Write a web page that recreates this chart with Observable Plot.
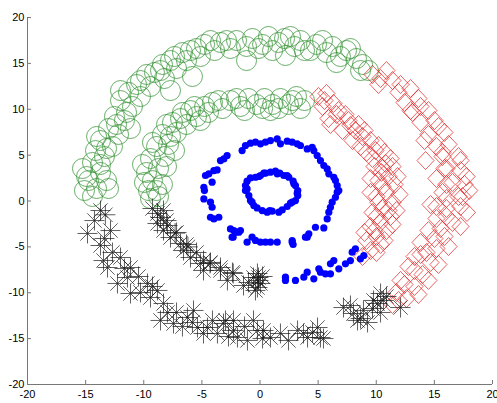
<!DOCTYPE html>
<html><head><meta charset="utf-8">
<script src="https://cdn.jsdelivr.net/npm/d3@7"></script>
<script src="https://cdn.jsdelivr.net/npm/@observablehq/plot@0.6"></script>
<style>body{margin:0;background:#fff;}</style>
</head><body><div id="chart"></div>
<script>
const xTicks = [-20, -15, -10, -5, 0, 5, 10, 15, 20];
const yTicks = [-20, -15, -10, -5, 0, 5, 10, 15, 20];

const green = [
  [-15.27,3.54],[-14.41,4.20],[-13.72,3.11],[-14.75,2.23],[-14.06,1.36],[-13.20,2.23],[-15.10,1.14],
  [-14.15,5.50],[-13.38,4.85],[-13.72,6.59],[-12.69,5.94],[-13.03,7.90],[-12.17,7.25],[-12.52,9.21],
  [-11.66,8.77],[-12.00,10.95],[-10.97,10.30],[-11.31,11.83],[-10.28,11.39],[-10.28,13.13],[-9.42,12.48],
  [-9.08,14.01],[-8.22,13.35],[-8.39,14.88],[-7.18,14.44],[-7.35,15.75],[-6.32,15.31],[-5.98,16.40],
  [-5.12,15.75],[-4.77,17.06],[-3.91,16.40],[-3.40,17.28],[-2.54,16.62],[-2.02,17.49],[-1.16,16.84],
  [-0.65,17.71],[0.22,17.06],[0.73,17.93],[1.59,17.28],[2.11,17.71],[2.97,16.84],[3.48,17.49],
  [4.34,16.40],[4.86,17.06],[5.72,16.18],[6.24,16.84],[6.92,15.75],[7.44,16.40],[8.30,15.53],
  [8.82,14.88],[9.33,14.22],[-7.70,12.04],[-5.81,13.57],[2.19,15.86],[-1.16,15.31],[-11.14,7.90],
  [-14.92,2.67],[-13.72,3.98],[-14.41,0.49],[-13.03,1.36],[-13.20,5.72],[-14.06,7.03],[-12.34,8.34],
  [-11.48,9.65],[-12.00,12.04],[-10.62,12.70],[-9.76,13.79],[-8.56,14.22],[-7.70,15.31],[-6.67,16.18],
  [-5.46,16.62],[-4.26,17.49],[-2.88,17.49],[-0.13,16.62],[1.08,16.40],[2.62,17.93],[3.83,16.40],
  [5.38,17.49],[6.58,15.09],[7.78,16.62],[8.65,14.22],
  [-9.59,1.14],[-8.73,0.49],[-9.25,2.23],[-8.39,1.80],[-9.76,3.11],[-8.73,3.54],[-9.42,4.63],
  [-8.22,4.85],[-8.90,5.94],[-7.87,6.16],[-8.39,7.25],[-7.18,7.47],[-7.53,8.56],[-6.32,8.34],
  [-6.67,9.65],[-5.46,9.21],[-5.63,10.30],[-4.43,9.65],[-4.09,10.74],[-3.23,10.08],[-2.54,10.95],
  [-1.68,10.30],[-0.99,11.17],[-0.30,10.52],[0.39,11.17],[1.08,10.52],[1.76,11.17],[2.45,10.52],
  [3.14,11.39],[3.83,10.95],[-7.35,5.50],[-5.12,8.77],[0.90,9.86],[-9.42,0.27],
  [-9.94,2.02],[-8.90,1.14],[-10.11,3.98],[-8.04,3.76],[-9.25,6.38],[-7.70,7.03],[-8.04,8.34],
  [-6.84,8.99],[-5.98,9.86],[-4.77,10.30],[-3.57,10.95],[-2.02,11.17],[-1.33,9.86],[0.22,10.08],
  [1.59,10.08],[2.80,10.95],[3.48,10.08]
];

const red = [
  [5.03,11.39],[5.72,11.72],[5.38,10.30],[6.32,10.63],[6.58,9.43],[5.89,8.99],[7.35,9.43],[7.78,8.23],
  [7.10,7.68],[8.47,8.34],[8.82,7.03],[7.96,6.59],[9.51,6.59],[9.94,5.50],[9.16,5.29],[10.71,5.29],
  [10.80,4.09],[9.85,3.76],[11.40,3.76],[11.05,2.67],[10.19,2.23],[11.57,1.80],[10.88,0.93],[10.02,0.49],
  [11.40,-0.16],[10.54,-0.82],[9.68,-1.25],[11.23,-1.69],[10.37,-2.34],[9.51,-2.78],[10.88,-3.22],
  [10.02,-3.87],[9.16,-4.31],[10.37,-4.74],[9.51,-5.40],[8.82,-6.05],[8.22,7.68],[10.45,3.11],
  [11.05,-1.04],[9.85,-3.22],
  [5.55,10.95],[6.75,9.86],[6.06,8.34],[7.61,8.77],[8.99,7.68],[8.65,5.94],[10.19,6.05],[9.68,4.63],
  [11.23,4.63],[10.54,3.54],[9.51,2.45],[11.83,2.67],[10.54,1.58],[9.51,0.93],[12.00,0.71],[10.19,-0.16],
  [11.74,-1.04],[10.02,-1.69],[11.40,-2.56],[8.99,-3.43],[10.71,-4.31],[10.02,-5.61],
  [9.68,13.79],[10.88,14.22],[10.19,12.70],[11.40,13.13],[11.91,11.83],[12.95,12.26],[12.43,10.74],
  [13.63,11.17],[13.12,9.65],[14.49,9.86],[13.81,8.56],[15.01,8.77],[14.49,7.25],[15.87,7.47],
  [15.18,5.94],[16.22,6.16],[15.70,4.85],[17.08,4.85],[15.87,3.54],[17.25,3.32],[15.18,2.45],
  [16.56,2.02],[17.59,1.80],[15.70,0.93],[17.08,0.49],[14.67,-0.38],[16.04,-0.82],[17.25,-0.60],
  [15.18,-1.91],[16.56,-2.34],[14.49,-3.22],[15.87,-3.87],[13.81,-4.52],[15.18,-5.18],[13.29,-6.05],
  [14.67,-6.70],[12.77,-7.14],[13.98,-8.01],[12.09,-8.66],[13.29,-9.32],[11.74,-9.97],[12.60,-10.63],
  [11.40,-11.28],[14.24,4.41],[17.42,0.49],[15.53,-3.00],[12.95,9.86],[14.32,-5.61],
  [10.37,13.35],[12.09,12.70],[13.81,10.30],[15.35,8.12],[14.15,6.59],[15.70,5.29],[17.25,4.41],
  [16.04,3.54],[17.77,2.67],[16.04,1.80],[18.00,1.14],[16.04,0.27],[15.18,-0.60],[17.80,-1.25],
  [16.04,-1.69],[17.25,-2.78],[15.01,-4.09],[16.22,-4.96],[13.81,-5.83],[15.35,-6.92],[13.29,-7.57],
  [14.49,-8.66],[12.43,-9.10],[13.63,-10.19],[11.91,-10.84]
];

const black = [
  [-13.72,-1.04],[-13.30,-1.50],[-12.86,-3.22],[-14.84,-3.54],[-13.72,-4.85],[-13.46,-6.49],[-13.12,-7.25],
  [-12.00,-6.16],[-11.40,-8.34],[-11.14,-7.25],[-12.26,-8.99],[-11.14,-10.08],[-9.68,-8.99],[-8.82,-9.75],
  [-9.42,-10.52],[-8.30,-11.17],[-7.96,-12.15],[-8.56,-13.02],[-7.44,-13.35],[-6.24,-12.70],[-5.72,-11.93],
  [-5.38,-13.79],[-4.86,-14.44],[-3.66,-14.44],[-3.14,-13.35],[-2.28,-13.02],[-1.94,-14.88],[-1.08,-15.20],
  [-0.22,-14.11],[-4.52,-13.79],[-2.97,-13.02],[-2.28,-14.11],[-0.56,-13.02],[0.30,-14.11],[0.90,-14.88],
  [1.76,-14.44],[3.23,-14.11],[4.09,-14.88],[4.95,-13.79],[5.20,-14.88],[3.74,-14.44],[5.46,-14.99],
  [7.18,-11.61],[8.04,-12.26],[8.39,-13.02],[8.90,-11.93],[9.25,-13.24],[9.76,-10.84],[10.11,-11.17],
  [10.37,-10.08],[10.62,-10.84],[10.37,-12.15],[12.09,-11.61],
  [-14.24,-2.13],[-13.38,-4.09],[-12.69,-5.61],[-11.66,-7.36],[-10.45,-8.23],[-10.28,-9.97],[-9.25,-9.32],
  [-7.18,-12.15],[-6.67,-13.68],[-5.81,-13.24],[-4.09,-13.02],[-2.71,-14.77],[-1.33,-13.68],[0.22,-14.99],
  [2.45,-15.20],[4.52,-14.33],[7.78,-11.39],[8.65,-12.81],[9.68,-11.72],[10.88,-10.41],
  [-8.30,-1.04],[-8.82,-1.36],[-8.56,-1.80],[-8.82,-2.45],[-8.30,-3.22],[-7.70,-3.98],[-6.84,-4.63],
  [-6.58,-5.40],[-5.98,-6.16],[-5.12,-6.81],[-4.86,-7.57],[-4.86,-6.49],[-3.40,-7.25],[-3.40,-7.57],
  [-2.80,-8.66],[-1.42,-9.21],[-0.56,-8.34],[-0.22,-9.43],[-0.13,-8.34],[0.04,-8.99],[-0.22,-7.90],
  [-0.13,-8.66],[-7.96,-2.67],[-7.30,-3.50],[-6.20,-5.00],[-4.30,-6.80],[-2.30,-7.90],
  [-9.25,-0.82],[-8.04,-2.13],[-7.18,-3.43],[-6.32,-4.74],[-5.46,-5.61],[-4.26,-6.70],[-2.37,-7.79],
  [-0.99,-8.88],[0.22,-8.23],[-0.39,-9.75]
];

const blue = [
  [0.47,3.03],[0.90,3.14],[1.33,3.25],[1.70,3.03],[2.05,2.78],[2.48,2.59],[2.85,2.16],[3.05,1.69],
  [3.25,1.14],[3.25,0.60],[3.05,0.05],[2.62,-0.24],[2.34,-0.60],[1.91,-0.97],[1.62,-1.22],[1.05,-1.11],
  [0.62,-1.22],[0.19,-1.04],[-0.25,-0.75],[-0.53,-0.49],[-0.82,0.05],[-0.96,0.60],[-1.25,1.14],
  [-1.25,1.69],[-1.11,2.16],[-0.82,2.52],[-0.39,2.59],[-0.10,2.67],[0.33,3.03],[1.48,2.96],[2.91,1.87],
  [3.20,0.85],[2.77,-0.13],[0.84,-1.04],[-0.68,-0.13],[-1.11,1.32],[0.04,2.78],[2.34,2.78],
  [-4.26,-1.77],[-3.97,-1.95],[-3.54,-1.77],[-4.12,-0.68],[-4.26,-0.13],[-4.83,0.23],[-4.78,1.14],
  [-4.83,1.50],[-4.12,2.05],[-4.69,2.78],[-4.40,2.96],[-3.97,3.32],[-3.69,3.39],[-3.40,4.41],
  [-3.11,4.59],[-2.83,4.96],[-1.54,5.50],[-1.25,6.05],[-0.82,6.30],[-0.39,6.41],[0.04,6.23],[0.47,6.41],
  [0.90,6.59],[1.48,6.77],[1.76,6.23],[2.34,6.52],[2.77,6.41],[3.20,6.23],[3.48,6.05],[4.06,5.68],
  [4.49,5.86],[4.63,5.50],[4.92,4.96],[5.20,4.41],[5.49,3.87],[5.78,3.50],[5.92,2.96],[6.35,2.59],
  [6.49,2.23],[6.64,1.69],[6.78,1.14],[6.64,0.96],[6.49,0.41],[6.21,-0.13],[6.06,-0.68],[5.92,-1.22],
  [5.78,-1.95],[5.49,-2.93],[4.77,-2.86],[4.20,-3.58],[3.91,-3.94],[2.85,-4.74],[2.77,-4.31],
  [-2.54,-3.04],[-2.25,-3.22],[-1.82,-3.40],[-2.31,-3.94],[-2.40,-3.94],[-2.11,-3.40],[-1.68,-3.22],
  [-0.68,-3.94],[-1.11,-4.49],[-0.39,-4.30],[0.04,-4.49],[0.47,-4.49],[0.90,-4.49],[1.48,-4.49],
  [2.77,-4.49],[4.06,-3.94],
  [2.19,-8.30],[2.19,-8.66],[3.05,-8.66],[3.77,-8.30],[4.06,-7.76],[4.63,-8.48],[5.06,-7.39],[5.20,-7.76],
  [5.63,-7.94],[6.06,-7.94],[6.06,-6.85],[6.35,-6.49],[6.78,-7.39],[7.35,-6.85],[7.78,-6.49],[7.93,-5.58],
  [8.21,-5.21],[8.64,-6.30],[8.93,-5.94]
];

const asterisk = {
  draw(ctx, size) {
    const r = Math.sqrt(size / Math.PI), d = r * 0.72;
    ctx.moveTo(-r, 0); ctx.lineTo(r, 0);
    ctx.moveTo(0, -r); ctx.lineTo(0, r);
    ctx.moveTo(-d, -d); ctx.lineTo(d, d);
    ctx.moveTo(-d, d); ctx.lineTo(d, -d);
  }
};
const diamond = {
  draw(ctx, size) {
    const r = Math.sqrt(size / Math.PI);
    ctx.moveTo(0, -r); ctx.lineTo(r * 0.95, 0); ctx.lineTo(0, r); ctx.lineTo(-r * 0.95, 0); ctx.closePath();
  }
};

const px = d => d[0], py = d => d[1];

const chart = Plot.plot({
  width: 497, height: 403,
  marginLeft: 27, marginRight: 5, marginTop: 17, marginBottom: 19,
  x: {domain: [xTicks[0], xTicks[xTicks.length - 1]]},
  y: {domain: [yTicks[0], yTicks[yTicks.length - 1]]},
  style: {fontFamily: "Liberation Sans, Arial, sans-serif", fontSize: "11px", background: "#fff"},
  marks: [
    Plot.dot(green, {x: px, y: py, r: 10, stroke: "#2a8c2a", strokeWidth: 0.7, fill: "none"}),
    Plot.dot(red, {x: px, y: py, r: 9, symbol: diamond, stroke: "#e02020", strokeWidth: 0.7, fill: "none"}),
    Plot.dot(black, {x: px, y: py, r: 10, symbol: asterisk, stroke: "#1a1a1a", strokeWidth: 0.7, fill: "none"}),
    Plot.dot(blue, {x: px, y: py, r: 3.6, fill: "#0000ff", stroke: "none"}),
    Plot.ruleX([xTicks[0]], {stroke: "#777", strokeWidth: 1}),
    Plot.ruleY([yTicks[0]], {stroke: "#777", strokeWidth: 1}),
    Plot.axisX({ticks: xTicks, tickSize: -4, tickPadding: 10, stroke: "#777", fill: "#000", label: null, tickFormat: d => String(d)}),
    Plot.axisY({ticks: yTicks, tickSize: -4, tickPadding: 7, stroke: "#777", fill: "#000", label: null, tickFormat: d => String(d)})
  ]
});
document.getElementById("chart").appendChild(chart);
</script>
</body></html>
